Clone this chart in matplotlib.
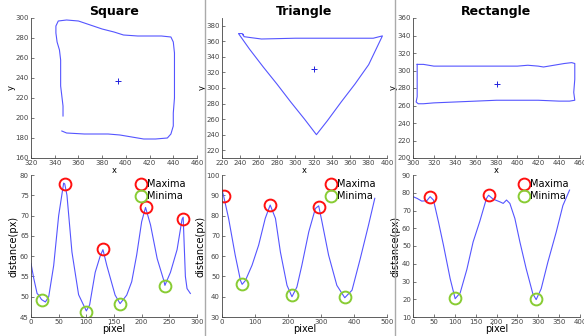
import numpy as np
import matplotlib
import matplotlib.pyplot as plt
from matplotlib.lines import Line2D
matplotlib.use('Agg')

# ------------ Data ------------ #
titles = ["Square", "Triangle", "Rectangle"]

# contours (x, y) and centroids
sq_x = [347, 347, 346, 345, 345, 345, 344, 342, 341, 341, 343, 350, 360, 370, 380, 390, 398, 410, 430, 438,
        440, 441, 441, 441, 441, 440, 440, 438, 435, 425, 415, 405, 395, 385, 365, 350, 346]
sq_y = [202, 212, 222, 232, 245, 258, 268, 276, 285, 292, 297, 298, 297, 293, 289, 286, 283, 282, 282, 281,
        276, 265, 250, 235, 220, 205, 192, 184, 180, 179, 179, 181, 183, 184, 184, 185, 187]
sq_c = (393, 237)

tri_x = [243, 242, 238, 250, 265, 280, 295, 310, 323, 335, 350, 365, 380, 395, 385, 370, 340, 300, 263, 250, 244, 243]
tri_y = [368, 370, 370, 350, 327, 305, 282, 260, 240, 258, 282, 305, 330, 367, 364, 364, 364, 364, 363, 365, 366, 369]
tri_c = (320, 325)

rec_x = [304, 310, 320, 340, 360, 380, 400, 410, 420, 425, 435, 445, 452, 455, 455, 454, 455, 450, 440, 420,
         400, 380, 360, 340, 320, 310, 305, 303, 304, 304, 304]
rec_y = [307, 307, 305, 305, 305, 305, 305, 306, 305, 304, 306, 308, 309, 308, 290, 275, 266, 265, 265, 266,
         266, 266, 265, 264, 263, 262, 262, 264, 270, 290, 307]
rec_c = (380, 285)

# distance profiles
sq_px = [0, 5, 11, 14, 19, 26, 32, 41, 50, 59, 61, 65, 74, 86, 100, 106, 116, 125, 130, 137, 152, 161, 173,
         182, 191, 200, 207, 216, 228, 240, 242, 252, 264, 273, 275, 279, 282, 288]
sq_d = [58.2, 54.5, 50.8, 50.4, 49.3, 48.7, 50.0, 57.7, 70.0, 78.0, 77.8, 75.0, 61.0, 50.5, 46.5, 48.0, 56.0,
        60.0, 61.6, 57.7, 50.4, 48.3, 50.4, 53.7, 60.3, 68.5, 72.0, 67.7, 59.4, 54.0, 52.8, 56.0, 61.6, 69.1,
        69.6, 55.0, 52.0, 50.8]
sq_max = ([61, 130, 207, 275], [77.8, 61.7, 72.0, 69.2])
sq_min = ([19, 100, 161, 242], [49.2, 46.3, 48.1, 52.7])

tri_px = [0, 5, 20, 40, 56, 61, 71, 91, 111, 131, 146, 162, 177, 197, 212, 227, 242, 263, 283, 293, 303, 323,
          348, 372, 394, 419, 444, 463]
tri_d = [92.6, 89.6, 78.6, 60.5, 48.0, 46.1, 48.0, 55.5, 65.4, 78.6, 85.2, 78.6, 62.0, 45.6, 40.0, 44.8, 55.5,
         72.0, 83.5, 84.8, 76.9, 60.5, 45.6, 39.5, 43.2, 58.8, 75.3, 88.5]
tri_max = ([5, 146, 293], [89.6, 85.0, 84.3])
tri_min = ([61, 212, 372], [46.3, 40.7, 40.0])

rec_px = [0, 10, 21, 33, 41, 49, 61, 73, 89, 101, 113, 129, 144, 160, 176, 181, 192, 208, 216, 224, 232, 244,
          256, 271, 287, 295, 307, 323, 343, 359, 375]
rec_d = [77.8, 76.8, 75.3, 75.5, 77.8, 75.9, 63.6, 50.4, 31.6, 20.3, 23.6, 36.8, 52.3, 63.9, 76.8, 78.6, 76.4,
         74.9, 74.0, 75.9, 74.0, 65.5, 52.3, 37.3, 23.1, 19.8, 25.9, 40.9, 57.8, 72.8, 81.5]
rec_max = ([41, 181], [77.7, 78.7])
rec_min = ([101, 295], [20.5, 20.3])

contours = [(sq_x, sq_y, sq_c), (tri_x, tri_y, tri_c), (rec_x, rec_y, rec_c)]
profiles = [(sq_px, sq_d, sq_max, sq_min), (tri_px, tri_d, tri_max, tri_min), (rec_px, rec_d, rec_max, rec_min)]

top_xlim = [(320, 460), (220, 400), (300, 460)]
top_ylim = [(160, 300), (210, 390), (200, 360)]
top_xt = [np.arange(320, 461, 20), np.arange(220, 401, 20), np.arange(300, 461, 20)]
top_yt = [np.arange(160, 301, 20), np.arange(220, 381, 20), np.arange(200, 361, 20)]

bot_xlim = [(0, 300), (0, 500), (0, 400)]
bot_ylim = [(45, 80), (30, 100), (10, 90)]
bot_xt = [np.arange(0, 301, 50), np.arange(0, 501, 100), np.arange(0, 401, 50)]
bot_yt = [np.arange(45, 81, 5), np.arange(30, 101, 10), np.arange(10, 91, 10)]

# ------------ Layout ------------ #
lefts = [31 / 584, 222 / 584, 413 / 584]
rights = [197 / 584, 387 / 584, 580 / 584]
line_col = '#5555ff'
tick_fs = 5


def style_ax(ax):
    for s in ['top', 'right']:
        ax.spines[s].set_visible(False)
    for s in ['left', 'bottom']:
        ax.spines[s].set_linewidth(0.6)
        ax.spines[s].set_color('#444444')
    ax.tick_params(direction='in', length=2.5, width=0.5, labelsize=tick_fs,
                   colors='#444444', pad=1.5)


fig = plt.figure(figsize=(5.84, 3.36), dpi=100)

for i in range(3):
    w = rights[i] - lefts[i]
    # contour panel
    ax = fig.add_axes([lefts[i], 1 - 158 / 336, w, 140 / 336])
    cx, cy, c = contours[i]
    ax.plot(cx, cy, color=line_col, lw=0.8)
    ax.plot([c[0]], [c[1]], '+', color='#2222dd', ms=4, mew=0.7)
    ax.set_xlim(top_xlim[i])
    ax.set_ylim(top_ylim[i])
    ax.set_xticks(top_xt[i])
    ax.set_yticks(top_yt[i])
    ax.set_xlabel('x', fontsize=6, labelpad=0)
    ax.set_ylabel('y', fontsize=6, labelpad=0)
    ax.set_title(titles[i], fontsize=9, fontweight='bold', pad=2)
    style_ax(ax)

    # distance profile panel
    ax2 = fig.add_axes([lefts[i], 1 - 317 / 336, w, 142 / 336])
    px, d, mx, mn = profiles[i]
    ax2.plot(px, d, color=line_col, lw=0.8)
    ax2.plot(mx[0], mx[1], 'o', mfc='none', mec='#ff1010', ms=8.5, mew=1.4, label='Maxima')
    ax2.plot(mn[0], mn[1], 'o', mfc='none', mec='#88cc33', ms=8.5, mew=1.4, label='Minima')
    ax2.set_xlim(bot_xlim[i])
    ax2.set_ylim(bot_ylim[i])
    ax2.set_xticks(bot_xt[i])
    ax2.set_yticks(bot_yt[i])
    ax2.set_xlabel('pixel', fontsize=7, labelpad=-1)
    ax2.set_ylabel('distance(px)', fontsize=7, labelpad=1)
    style_ax(ax2)
    ax2.legend(loc='upper right', bbox_to_anchor=(0.97, 1.02), frameon=False, fontsize=7,
               handletextpad=0.0, labelspacing=0.2, handlelength=1.2, borderpad=0.2)

# separators between panels
for xs in [205 / 584, 395 / 584]:
    fig.add_artist(Line2D([xs, xs], [0, 1], color='#aaaaaa', lw=1.0))

fig.savefig('out.png', dpi=100)
